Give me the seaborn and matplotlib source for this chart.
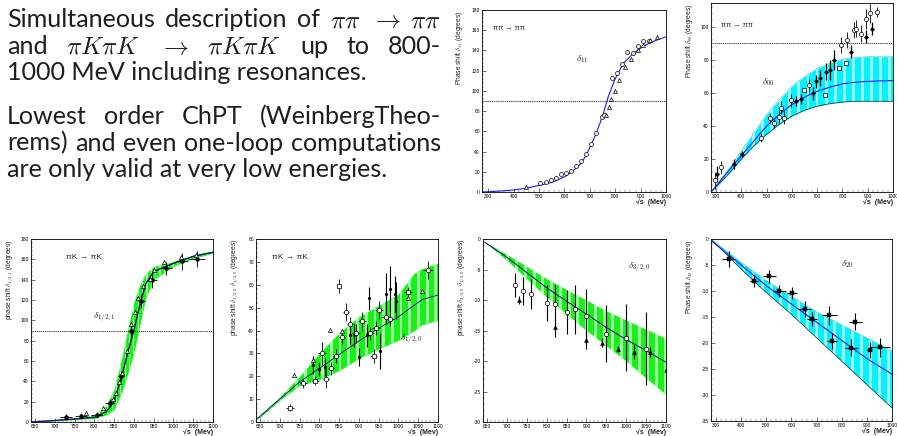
import numpy as np
import pandas as pd
import matplotlib
matplotlib.use("Agg")
import matplotlib.pyplot as plt
from matplotlib.ticker import MultipleLocator, AutoMinorLocator
import seaborn as sns

# ---------------- data ----------------
# Panel 1: pi pi -> pi pi, delta_11
p1_curve_x = [275, 300, 350, 400, 450, 500, 550, 600, 630, 660, 680, 705, 725, 750, 772, 798, 831, 871, 910, 950, 1000]
p1_curve_y = [0, 0.3, 1, 2, 3.8, 6.5, 9.5, 15, 20, 27, 34, 46.5, 58, 75, 94, 111, 127, 137, 144, 149, 153.5]
p1_circ_x = [503, 527, 547, 567, 587, 606, 626, 646, 666, 686, 705, 725, 749, 756, 786, 805, 828, 847, 871, 888, 908, 934]
p1_circ_y = [9, 10, 12, 13.5, 18, 19, 21, 26, 31, 38, 47, 58, 74, 76, 113, 118, 127, 138, 137, 144, 149, 149]
p1_tri_x = [448, 765, 776, 785, 798, 815, 838, 864, 888, 910, 937, 966]
p1_tri_y = [5, 76, 84, 92, 100, 111, 124, 132, 140, 145, 150, 153]

# Panel 2: pi pi -> pi pi, delta_00
p2_x = [280, 300, 350, 400, 450, 500, 550, 600, 650, 700, 750, 800, 850, 900, 950, 1000]
p2_mid = [0, 3.5, 13, 22, 31, 40, 47, 53, 57.5, 61, 63.5, 65.5, 66.5, 67, 67.3, 67.5]
p2_hi = [0, 4, 14, 25, 36, 47, 56, 64, 70, 75, 78, 80.5, 81.5, 82, 82, 82]
p2_lo = [0, 3, 11, 20, 28, 35, 41, 46, 49.5, 52, 53.5, 54.5, 55, 55, 55, 55]
p2_circ_x = [295, 320, 476, 512, 529, 549, 556, 569, 596, 669, 795, 817, 844, 854, 873, 894, 910, 938]
p2_circ_y = [7, 15, 33, 45, 41.5, 45.5, 51, 45, 55.6, 64.7, 89, 92, 98, 99, 96, 105, 108.5, 109]
p2_circ_e = [5, 4, 3, 3, 3, 4, 4, 4, 4, 4, 5, 5, 5, 5, 5, 6, 6, 3]
p2_fill_x = [304, 370, 401, 616, 635, 682, 695, 711, 735, 751, 768, 834, 894, 915]
p2_fill_y = [11, 17, 23, 55, 56.6, 59.7, 67, 69, 73, 74, 80, 85, 94, 99]
p2_fill_e = [5, 3, 2, 3, 3, 4, 4, 5, 5, 6, 6, 4, 4, 4]
p2_sq_x = [649, 732, 788, 815]
p2_sq_y = [61.7, 58.7, 75, 78]

# Panel 3: pi K -> pi K, delta_1/2,1
p3_x = [640, 700, 750, 800, 830, 850, 870, 885, 900, 915, 930, 950, 1000, 1050, 1100]
p3_mid = [0, 1.5, 3, 4.6, 10, 20, 46, 69, 90, 115, 136, 148, 156, 163, 167]
p3_hi = [0, 2, 4, 7, 16, 32, 64, 92, 118, 135, 146, 153, 158, 164, 168]
p3_lo = [0, 1, 2.5, 3.5, 7, 12, 30, 48, 68, 95, 122, 140, 153, 161, 166]
p3_dot_x = [729, 767, 806, 839, 868, 893, 919, 947, 981, 1021, 1060]
p3_dot_y = [5, 6, 7, 19, 45, 89.5, 119, 140, 151, 158, 160.5]
p3_dot_xe = [15, 15, 15, 12, 8, 5, 8, 12, 15, 15, 20]
p3_dot_ye = [3, 3, 3, 4, 5, 6, 7, 8, 6, 8, 8]
p3_tri_x = [779, 821, 846, 854, 862, 871, 883, 894, 902, 911, 923, 940, 952, 977, 1019, 1056]
p3_tri_y = [9, 14, 23, 29, 39, 48, 70, 96, 108, 122, 134, 141, 150, 157, 162, 164]

# Panel 4: pi K -> pi K, delta_1/2,0
p4_x = [640, 650, 700, 750, 800, 850, 900, 950, 1000, 1040, 1060, 1100]
p4_mid = [1, 2.5, 10, 17.5, 23.4, 29.5, 35.4, 41, 46, 51, 53.5, 55.5]
p4_hi = [1, 3, 11, 20, 30, 39, 46, 51, 56, 65, 67, 69.5]
p4_lo = [1, 2, 9.5, 16, 18.5, 22.5, 27.8, 32, 35.8, 40, 42.5, 44.6]
p4_circ_x = [760, 806, 817, 829, 843, 857, 867, 877, 892, 908, 929, 944, 950, 969, 979, 1075]
p4_circ_y = [17, 30, 19, 23.4, 29, 37, 48, 43, 38.7, 44, 38.7, 41, 49, 46, 45, 66.4]
p4_circ_ye = [2, 5, 4, 3, 3, 3, 4, 3, 4, 4, 3, 3, 4, 3, 3, 4]
p4_circ_xe = [8, 10, 8, 8, 8, 8, 8, 8, 10, 10, 10, 10, 10, 10, 10, 12]
p4_sq_x = [725, 790, 850, 937, 1025]
p4_sq_y = [6.3, 18, 59.6, 29, 57]
p4_sq_xe = [10, 8, 6, 10, 10]
p4_sq_ye = [1.5, 2, 3, 3, 2]
p4_tri_x = [737, 785, 827, 857, 1025, 1060]
p4_tri_y = [20.5, 27, 40.3, 40, 54, 57.3]
p4_dot_x = [784, 800, 815, 878, 887, 900, 921, 925, 954, 969, 978, 992, 994]
p4_dot_y = [25, 23, 24, 38, 38, 28.5, 38, 54, 31, 56, 58, 56, 53]
p4_dot_e = [4, 3, 4, 4, 5, 4, 5, 5, 8, 9, 10, 8, 8]

# Panel 5: delta_3/2,0
p5_x = [644, 700, 750, 800, 850, 900, 950, 1000, 1050, 1100]
p5_mid = [-0.5, -3, -5.5, -8, -10.2, -12.3, -14.5, -16.5, -18.3, -20.2]
p5_hi = [-0.5, -2.5, -4.5, -6.5, -8.3, -10, -11.8, -13.3, -14.8, -16.3]
p5_lo = [-0.5, -3.5, -6.5, -9.5, -12.3, -15, -17.5, -20, -22.8, -25.5]
p5_circ_x = [720, 740, 760, 800, 820, 850, 870, 900, 950, 1000, 1050]
p5_circ_y = [-7.5, -8.5, -9, -10.5, -10.6, -12, -11.5, -12.7, -15.5, -16.2, -18]
p5_circ_e = [2, 2.3, 2.5, 3, 3, 3.6, 4, 4.5, 4.7, 5.5, 6]
p5_tri_x = [730, 820, 900, 940, 980, 1020, 1060, 1100]
p5_tri_y = [-10, -14.5, -16.5, -17, -18, -18.5, -18.5, -21.5]
p5_tri_e = [0.6, 1.5, 1.5, 0.7, 0.5, 1.2, 0.8, 0.6]

# Panel 6: delta_20
p6_x = [280, 400, 500, 600, 700, 800, 900, 1000]
p6_mid = [-0.3, -5, -9, -12.5, -16, -19.5, -23, -26]
p6_hi = [0, -4.5, -8, -11, -14, -16.5, -19, -21.5]
p6_lo = [0, -5.8, -10.3, -14.5, -19, -23.5, -28, -32.5]
p6_pt_x = [350, 450, 512, 552, 602, 652, 681, 750, 761, 838, 854, 911, 954]
p6_pt_y = [-3.8, -8.1, -7.2, -10, -10.4, -13.5, -15.4, -14.7, -19.6, -20.9, -15.9, -21.4, -20.8]
p6_pt_xe = [25, 15, 25, 25, 20, 25, 20, 30, 20, 25, 25, 10, 40]
p6_pt_ye = [1.5, 1.2, 1.2, 1.2, 1.2, 1.5, 1.3, 1.8, 1.5, 1.6, 1.6, 1.5, 1.8]

# slide text
para1 = [
    (["Simultaneous", "description", "of", r"$\pi\pi$", r"$\rightarrow$", r"$\pi\pi$"], True),
    (["and", r"$\pi K\pi K$", r"$\rightarrow$", r"$\pi K\pi K$", "up", "to", "800-"], True),
    (["1000 MeV including resonances."], False),
]
para2 = [
    (["Lowest", "order", "ChPT", "(WeinbergTheo-"], True),
    (["rems)", "and", "even", "one-loop", "computations"], True),
    (["are only valid at very low energies."], False),
]
baselines = [27.3, 54, 80, 124, 150.7, 176.7]

# ---------------- figure ----------------
sns.set_theme(style="white")
plt.rcParams["font.family"] = ["Liberation Sans", "DejaVu Sans"]
plt.rcParams["mathtext.fontset"] = "cm"
plt.rcParams["axes.unicode_minus"] = False

W, H = 897, 436
fig = plt.figure(figsize=(W / 100, H / 100), dpi=100)
fig.patch.set_facecolor("white")
renderer = fig.canvas.get_renderer()

TXT_FONT = ["Lato", "DejaVu Sans"]


def width_px(s, fs):
    t = fig.text(0, 0, s, fontsize=fs, family=TXT_FONT)
    w = t.get_window_extent(renderer).width
    t.remove()
    return w


fs0 = 20
fs = fs0 * 381 / width_px(para2[2][0][0], fs0)
x_left, x_right = 7, 441
for (tokens, just), base in zip(para1 + para2, baselines):
    widths = [width_px(t, fs) for t in tokens]
    if just and len(tokens) > 1:
        gap = (x_right - x_left - sum(widths)) / (len(tokens) - 1)
    else:
        gap = 0
    x = x_left
    for tok, w in zip(tokens, widths):
        fig.text(x / W, 1 - base / H, tok, fontsize=fs, family=TXT_FONT,
                 va="baseline", ha="left", color="#1e1e1e")
        x += w + gap


def add_ax(l, t, r, b):
    return fig.add_axes([l / W, 1 - b / H, (r - l) / W, (b - t) / H])


def style_ax(ax, xlim, ylim, xmaj, ymaj, ylabel):
    ax.set_xlim(*xlim)
    ax.set_ylim(*ylim)
    ax.xaxis.set_major_locator(MultipleLocator(xmaj))
    ax.yaxis.set_major_locator(MultipleLocator(ymaj))
    ax.xaxis.set_minor_locator(AutoMinorLocator(5))
    ax.yaxis.set_minor_locator(AutoMinorLocator(5))
    ax.tick_params(which="major", direction="in", length=3, width=0.4, labelsize=3.5,
                   pad=1.5, left=True, bottom=True, top=False, right=False, colors="black")
    ax.tick_params(which="minor", direction="in", length=1.5, width=0.3,
                   left=True, bottom=True, top=False, right=False)
    for s in ax.spines.values():
        s.set_linewidth(0.6)
        s.set_color("black")
    ax.set_ylabel(ylabel, fontsize=4.8, loc="top")
    ax.yaxis.set_label_coords(-0.09, 1.0)
    ax.set_xlabel("√s  (Mev)", fontsize=5, loc="right", fontweight="bold")
    ax.xaxis.set_label_coords(1.0, -0.035)
    ax.xaxis.label.set_va("top")
    ax.grid(False)
    ax.set_facecolor("white")


def band(ax, x, lo, hi, color, stripe, period, width, edge=False):
    pc = ax.fill_between(x, lo, hi, color=color, lw=0, zorder=1)
    path = pc.get_paths()[0]
    for xs in np.arange(x[0] + period * 0.5, x[-1], period):
        r = ax.axvspan(xs, xs + width, color=stripe, lw=0, zorder=1.1)
        r.set_clip_path(path, ax.transData)
    if edge:
        sns.lineplot(x=x, y=lo, ax=ax, color="#222222", lw=0.5, zorder=1.2)
        sns.lineplot(x=x, y=hi, ax=ax, color="#33aaaa", lw=0.3, zorder=1.2)


def hline90(ax):
    ax.axhline(90, color="#444444", lw=0.8, ls=(0, (1, 0.7)), zorder=2)


def open_marker(ax, x, y, m, s=9):
    sns.scatterplot(x=x, y=y, ax=ax, marker=m, s=s, color="white",
                    edgecolor="black", linewidth=0.5, zorder=5, legend=False)


def fill_marker(ax, x, y, m, s=5):
    sns.scatterplot(x=x, y=y, ax=ax, marker=m, s=s, color="black",
                    edgecolor="black", linewidth=0.3, zorder=5, legend=False)


def ebar(ax, x, y, ye=None, xe=None, lw=0.6):
    ax.errorbar(x, y, yerr=ye, xerr=xe, fmt="none", ecolor="black",
                elinewidth=lw, capsize=0, zorder=4)


BLUE = "#1a1aff"
CYAN = "#00f4ff"
CYAN_L = "#a0fbff"
GREEN = "#19f019"
GREEN_L = "#a0ffa0"

# Panel 1
ax1 = add_ax(482, 10, 666, 192)
style_ax(ax1, (275, 1000), (0, 180), 100, 20, r"Phase shift $\delta_{11}$ (degrees)")
hline90(ax1)
sns.lineplot(x=p1_curve_x, y=p1_curve_y, ax=ax1, color=BLUE, lw=0.8, zorder=3)
open_marker(ax1, p1_circ_x, p1_circ_y, "o", 8)
open_marker(ax1, p1_tri_x, p1_tri_y, "^", 8)
ax1.text(0.06, 0.9, "ππ → ππ", transform=ax1.transAxes, fontsize=5.3, va="center")
ax1.text(0.51, 0.73, r"$\delta_{11}$", transform=ax1.transAxes, fontsize=7, va="center")

# Panel 2
ax2 = add_ax(711, 3, 893, 192)
style_ax(ax2, (280, 1000), (0, 114.5), 100, 20, r"Phase shift $\delta_{00}$ (degrees)")
band(ax2, p2_x, p2_lo, p2_hi, CYAN, CYAN_L, 36, 11, edge=True)
hline90(ax2)
sns.lineplot(x=p2_x, y=p2_mid, ax=ax2, color=BLUE, lw=0.8, zorder=3)
ebar(ax2, p2_circ_x, p2_circ_y, ye=p2_circ_e)
ebar(ax2, p2_fill_x, p2_fill_y, ye=p2_fill_e, lw=0.9)
open_marker(ax2, p2_circ_x, p2_circ_y, "o", 9)
fill_marker(ax2, p2_fill_x, p2_fill_y, "D", 5)
open_marker(ax2, p2_sq_x, p2_sq_y, "s", 9)
ax2.text(0.055, 0.88, "ππ → ππ", transform=ax2.transAxes, fontsize=5.3, va="center")
ax2.text(0.28, 0.58, r"$\delta_{00}$", transform=ax2.transAxes, fontsize=7, va="center")

# Panel 3
ax3 = add_ax(31, 239, 213, 422)
style_ax(ax3, (640, 1100), (0, 180), 50, 20, r"phase shift $\delta_{1/2,1}$ (degrees)")
band(ax3, p3_x, p3_lo, p3_hi, GREEN, GREEN_L, 11, 3)
hline90(ax3)
sns.lineplot(x=p3_x, y=p3_mid, ax=ax3, color="black", lw=0.9, zorder=3)
sns.lineplot(x=p3_x, y=p3_mid, ax=ax3, color=BLUE, lw=0.4, zorder=3.1)
ebar(ax3, p3_dot_x, p3_dot_y, ye=p3_dot_ye, xe=p3_dot_xe)
fill_marker(ax3, p3_dot_x, p3_dot_y, "o", 8)
open_marker(ax3, p3_tri_x, p3_tri_y, "^", 9)
ax3.text(0.19, 0.9, "πK → πK", transform=ax3.transAxes, fontsize=6, va="center")
ax3.text(0.34, 0.57, r"$\delta_{1/2,1}$", transform=ax3.transAxes, fontsize=7, va="center")

# Panel 4
ax4 = add_ax(256, 239, 438, 422)
style_ax(ax4, (640, 1100), (0, 80), 50, 10,
         r"phase shift $\delta_{3/2,0}\ \delta_{1/2,0}$ (degrees)")
band(ax4, p4_x, p4_lo, p4_hi, GREEN, GREEN_L, 22, 7)
sns.lineplot(x=p4_x, y=p4_mid, ax=ax4, color="#202080", lw=0.7, zorder=3)
ebar(ax4, p4_circ_x, p4_circ_y, ye=p4_circ_ye, xe=p4_circ_xe)
ebar(ax4, p4_sq_x, p4_sq_y, ye=p4_sq_ye, xe=p4_sq_xe)
ebar(ax4, p4_dot_x, p4_dot_y, ye=p4_dot_e, lw=0.8)
fill_marker(ax4, p4_dot_x, p4_dot_y, "o", 4)
open_marker(ax4, p4_circ_x, p4_circ_y, "o", 10)
open_marker(ax4, p4_sq_x, p4_sq_y, "s", 10)
open_marker(ax4, p4_tri_x, p4_tri_y, "^", 9)
ax4.text(0.087, 0.9, "πK → πK", transform=ax4.transAxes, fontsize=6, va="center")
ax4.text(0.79, 0.45, r"$\delta_{1/2,0}$", transform=ax4.transAxes, fontsize=7, va="center")

# Panel 5
ax5 = add_ax(483, 239, 666, 422)
style_ax(ax5, (640, 1100), (-30, 0), 50, 5,
         r"phase shift $\delta_{3/2,0}\ \delta_{1/2,0}$ (degrees)")
band(ax5, p5_x, p5_lo, p5_hi, GREEN, GREEN_L, 22, 7)
sns.lineplot(x=p5_x, y=p5_mid, ax=ax5, color="#202080", lw=0.8, zorder=3)
ebar(ax5, p5_circ_x, p5_circ_y, ye=p5_circ_e, lw=0.8)
ebar(ax5, p5_tri_x, p5_tri_y, ye=p5_tri_e, lw=0.8)
open_marker(ax5, p5_circ_x, p5_circ_y, "o", 10)
fill_marker(ax5, p5_tri_x, p5_tri_y, "^", 8)
ax5.text(0.79, 0.84, r"$\delta_{3/2,0}$", transform=ax5.transAxes, fontsize=7, va="center")

# Panel 6
ax6 = add_ax(711, 239, 892, 421)
style_ax(ax6, (280, 1000), (-35, 0), 100, 5, r"Phase shift $\delta_{20}$ (degrees)")
band(ax6, p6_x, p6_lo, p6_hi, CYAN, CYAN_L, 36, 11, edge=True)
sns.lineplot(x=p6_x, y=p6_mid, ax=ax6, color=BLUE, lw=0.8, zorder=3)
ebar(ax6, p6_pt_x, p6_pt_y, ye=p6_pt_ye, xe=p6_pt_xe, lw=0.8)
fill_marker(ax6, p6_pt_x, p6_pt_y, "s", 6)
ax6.text(0.72, 0.86, r"$\delta_{20}$", transform=ax6.transAxes, fontsize=7, va="center")

fig.savefig("out.png", dpi=100, facecolor="white")
